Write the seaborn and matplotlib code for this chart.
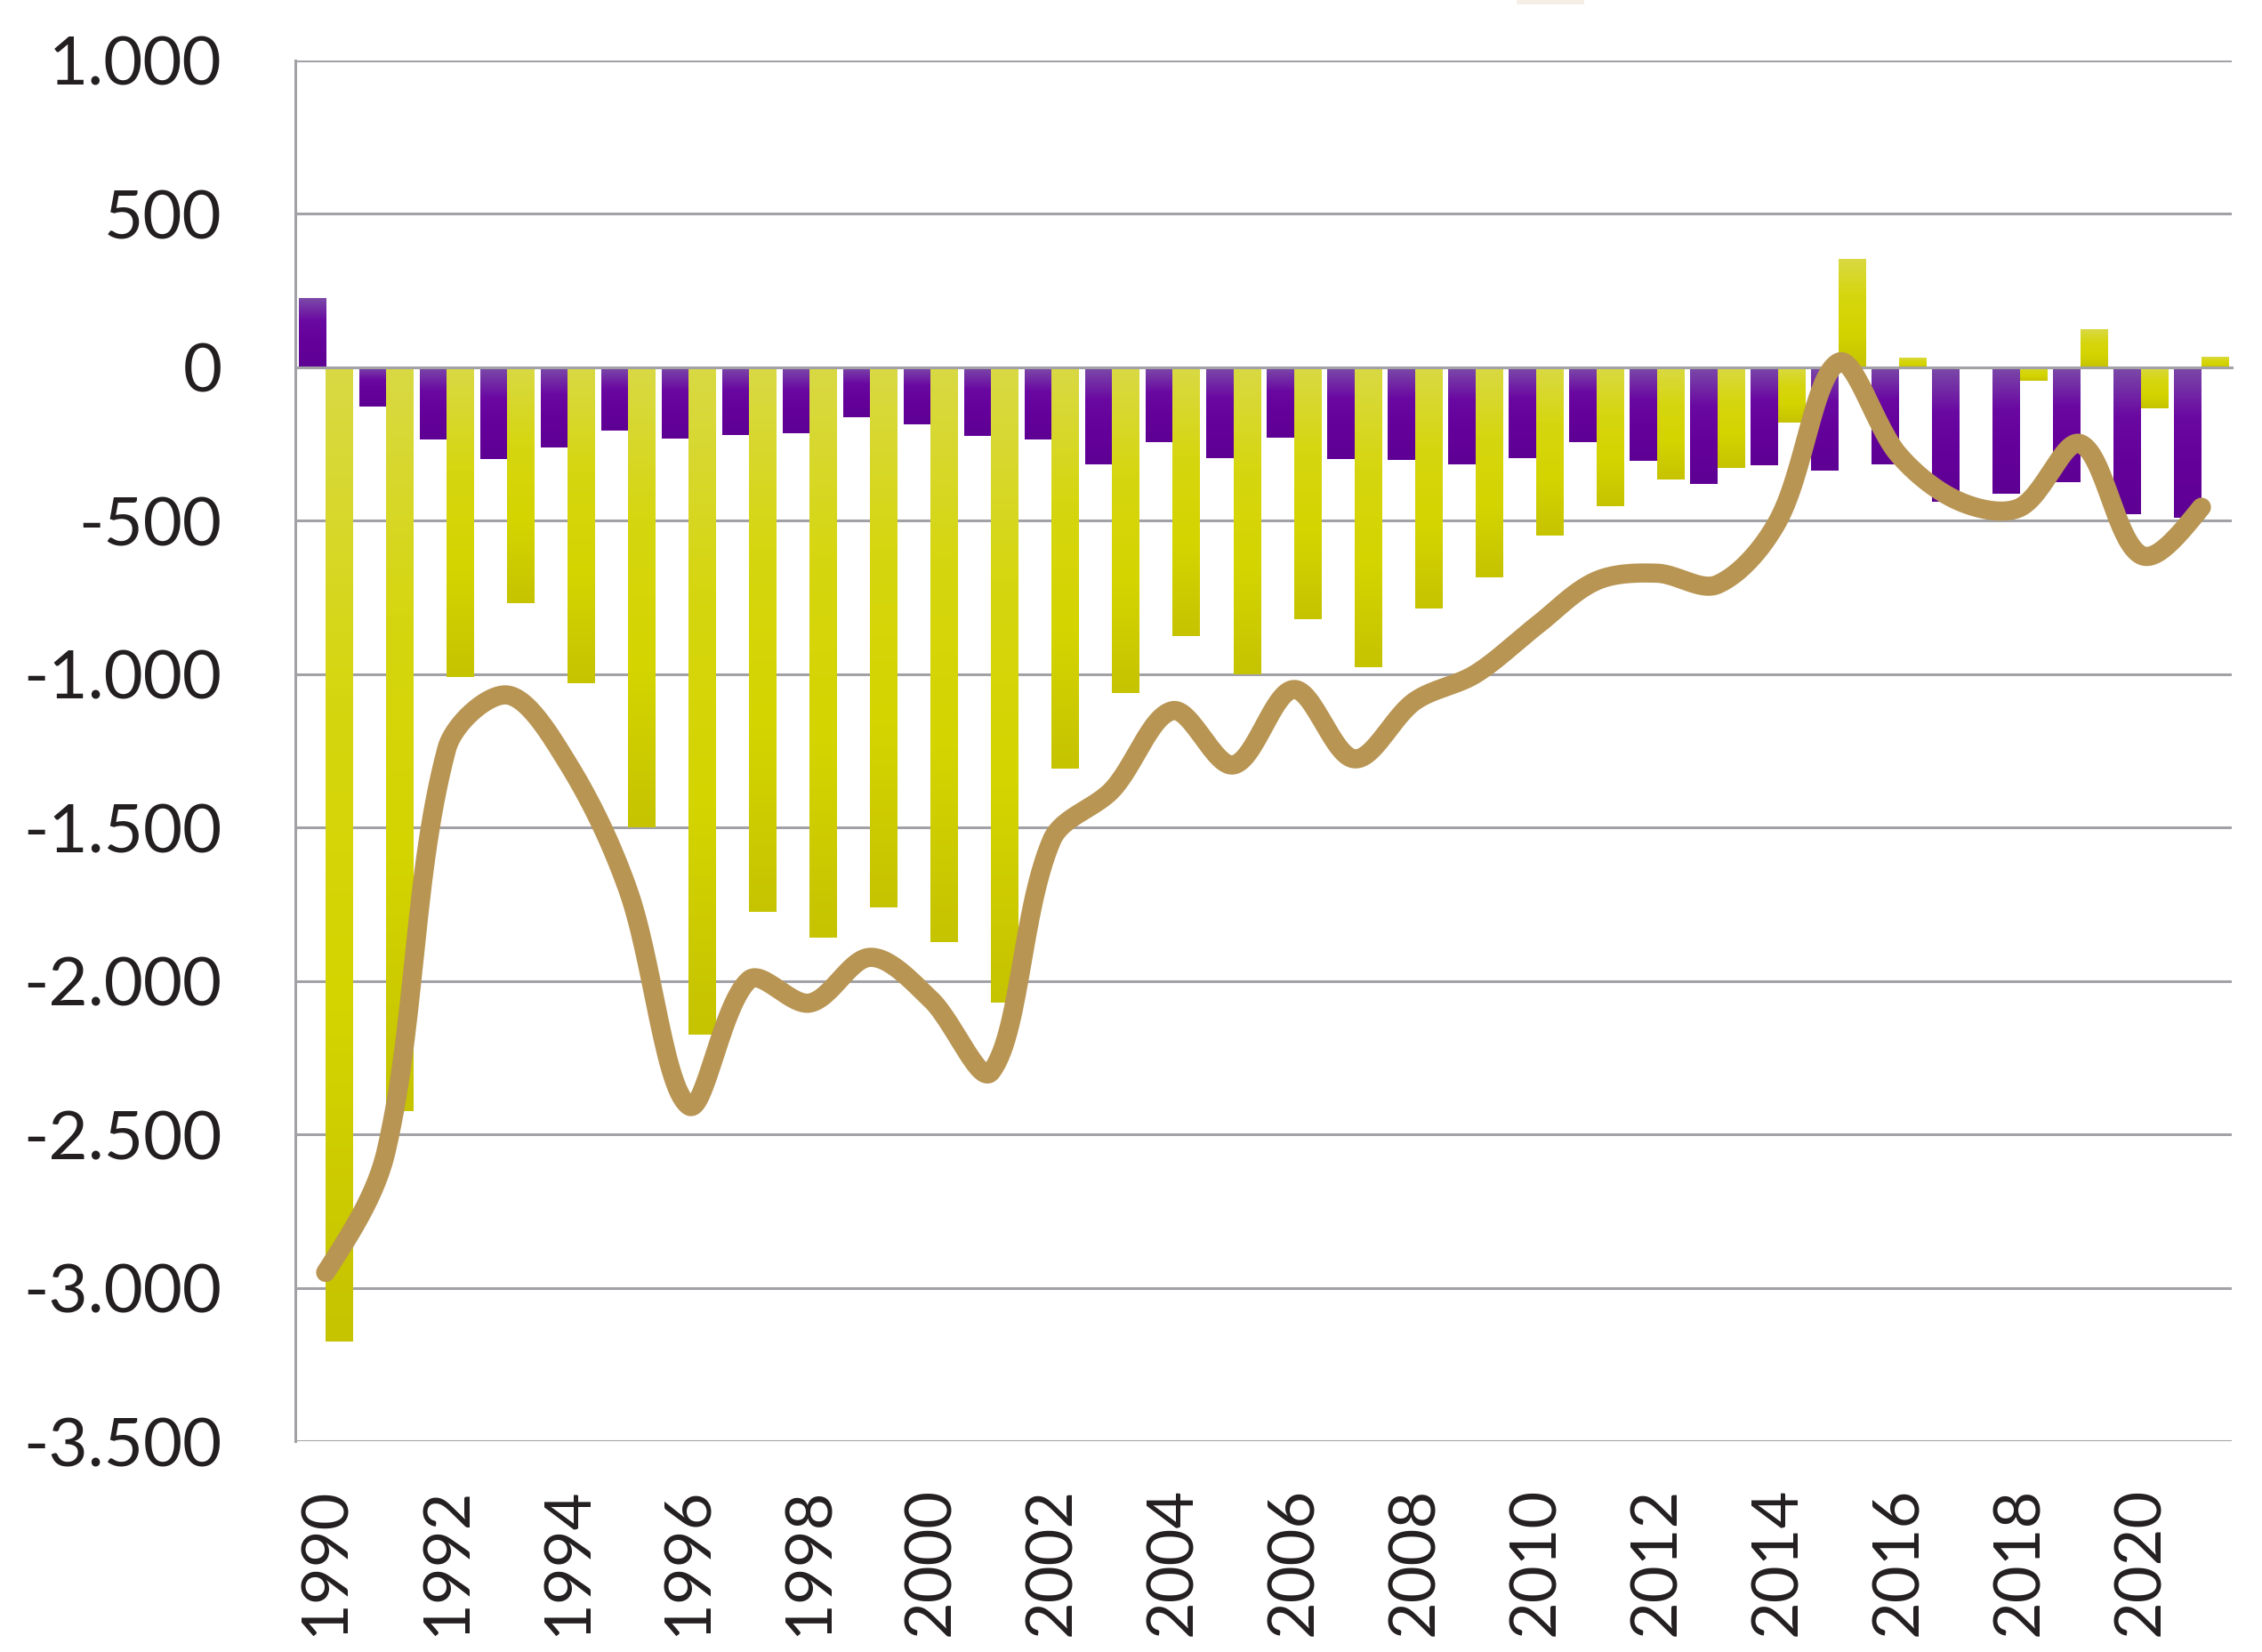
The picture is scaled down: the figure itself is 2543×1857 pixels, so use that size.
import numpy as np
import pandas as pd
import matplotlib.pyplot as plt
import matplotlib.ticker as mticker
from matplotlib.patches import Rectangle
import seaborn as sns

# data
years = list(range(1990, 2022))
purple_vals = [225, -129, -236, -298, -260, -205, -232, -222, -214, -164, -187, -225,
               -234, -315, -243, -295, -229, -298, -301, -315, -295, -243, -304,
               -379, -320, -338, -317, -437, -413, -373, -478, -490]
yellow_vals = [-3175, -2425, -1008, -770, -1030, -1500, -2175, -1774, -1858, -1759, -1873, -2071,
               -1307, -1062, -876, -1001, -821, -978, -787, -685, -549, -453, -367,
               -329, -181, 354, 31, 0, -44, 124, -134, 34]
total_vals = [p + y for p, y in zip(purple_vals, yellow_vals)]
year_labels = [str(y) for y in years[::2]]
ytick_vals = list(range(-3500, 1001, 500))

PURPLE = "#660099"
YELLOW = "#d4d400"
LINE = "#b89553"
GRID = "#a2a2a6"
TXT = "#231f20"

sns.set_style("white")
plt.rcParams["font.family"] = ["Lato", "DejaVu Sans"]

df = pd.DataFrame({
    "year": years * 2,
    "value": purple_vals + yellow_vals,
    "series": ["a"] * len(years) + ["b"] * len(years),
})

fig = plt.figure(figsize=(25.43, 18.57), dpi=100)
ax = fig.add_axes([0.1306, 0.1276, 0.8560, 0.8358])

sns.barplot(data=df, x="year", y="value", hue="series", palette=[PURPLE, YELLOW],
            width=0.9, dodge=True, legend=False, ax=ax, zorder=2, linewidth=0)

# vertical gradients on the bars, like the original
grad_p = np.array([[0x7b, 0x4a, 0xa8], [0x6a, 0x08, 0xa2], [0x64, 0x00, 0x9a], [0x5e, 0x00, 0x94]]) / 255
grad_y = np.array([[0xd9, 0xd9, 0x44], [0xd6, 0xd6, 0x10], [0xd4, 0xd4, 0x00], [0xc6, 0xc3, 0x00]]) / 255


def ramp(stops, n=128):
    t = np.linspace(0, 1, n)
    s = np.linspace(0, 1, len(stops))
    return np.stack([np.interp(t, s, stops[:, k]) for k in range(3)], axis=1)[:, None, :]


img_p, img_y = ramp(grad_p), ramp(grad_y)
bars = list(ax.patches)
for i, bar in enumerate(bars):
    h = bar.get_height()
    if h == 0:
        continue
    x0, w, y0 = bar.get_x(), bar.get_width(), bar.get_y()
    y_lo, y_hi = min(y0, y0 + h), max(y0, y0 + h)
    img = img_p if i < len(years) else img_y
    im = ax.imshow(img, extent=(x0, x0 + w, y_lo, y_hi), origin="upper",
                   aspect="auto", zorder=2.5, interpolation="bilinear")
    im.set_clip_path(bar)


# smoothed line, Excel style: handle lengths proportional to neighbouring segment lengths
def smooth(xs, ys, sx=68.0, sy=0.345, n=30):
    pts = np.column_stack([np.asarray(xs, float) * sx, np.asarray(ys, float) * sy])
    m = len(pts)
    cin, cout = pts.copy(), pts.copy()
    for i in range(1, m - 1):
        tvec = pts[i + 1] - pts[i - 1]
        d0 = np.linalg.norm(pts[i] - pts[i - 1])
        d1 = np.linalg.norm(pts[i + 1] - pts[i])
        cin[i] = pts[i] - tvec * d0 / (d0 + d1) / 3
        cout[i] = pts[i] + tvec * d1 / (d0 + d1) / 3
    cout[0] = pts[0] + (cin[1] - pts[0]) / 2
    cin[-1] = pts[-1] + (cout[-2] - pts[-1]) / 2
    t = np.linspace(0, 1, n)[:, None]
    out = []
    for i in range(m - 1):
        p1, c1, c2, p2 = pts[i], cout[i], cin[i + 1], pts[i + 1]
        seg = (1 - t) ** 3 * p1 + 3 * (1 - t) ** 2 * t * c1 + 3 * (1 - t) * t ** 2 * c2 + t ** 3 * p2
        out.append(seg if i == 0 else seg[1:])
    out = np.vstack(out)
    return out[:, 0] / sx, out[:, 1] / sy


cx, cy = smooth(np.arange(len(years)), total_vals)
ax.plot(cx, cy, color=LINE, lw=15.5, solid_capstyle="round",
        solid_joinstyle="round", zorder=4)

ax.set_xlim(-0.5, len(years) - 0.5)
ax.set_ylim(-3500, 1000)
ax.set_xlabel("")
ax.set_ylabel("")

# y axis
ax.set_yticks(ytick_vals)
ax.yaxis.set_major_formatter(mticker.FuncFormatter(lambda v, p: f"{int(v):,}".replace(",", ".")))
ax.grid(axis="y", color=GRID, lw=2.2, zorder=0)
ax.set_axisbelow(True)
ax.tick_params(axis="y", direction="out", length=19.5, width=2.2, color=GRID,
               labelsize=55, labelcolor=TXT, pad=40)

for s in ["top", "right"]:
    ax.spines[s].set_visible(False)
ax.spines["left"].set_color(GRID)
ax.spines["left"].set_linewidth(2.2)
ax.spines["bottom"].set_position(("data", 0))
ax.spines["bottom"].set_color(GRID)
ax.spines["bottom"].set_linewidth(2.2)
ax.spines["bottom"].set_zorder(3)

# category boundary ticks on the zero line
ax.set_xticks(np.arange(-0.5, len(years), 1.0))
ax.tick_params(axis="x", direction="out", length=19.5, width=2.2, color=GRID,
               labelbottom=False)

# year labels at the bottom
sec = ax.secondary_xaxis(0)
sec.set_xticks(list(range(0, len(years), 2)), year_labels)
sec.tick_params(length=0, pad=37, labelsize=52, labelcolor=TXT, labelrotation=90)
sec.spines["bottom"].set_visible(False)

# the cut-off legend box at the top edge
fig.patches.append(Rectangle((0.6705, 0.9972), 0.0298, 0.004, transform=fig.transFigure,
                             facecolor="#f5efe8", edgecolor="none"))

fig.savefig("out.png", dpi=100)
